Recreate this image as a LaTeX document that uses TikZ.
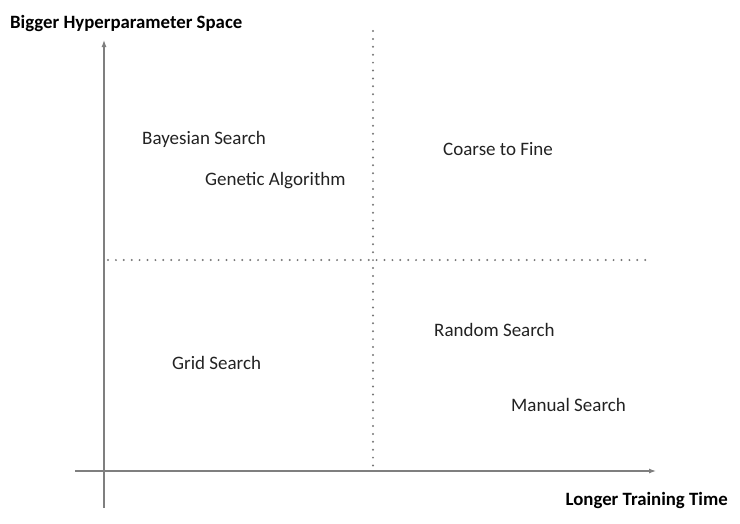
\documentclass[tikz,border=0pt]{standalone}
\usepackage{fontspec}
\setmainfont{Carlito}
\usetikzlibrary{arrows.meta}
\definecolor{axisgray}{HTML}{7F7F7F}
\definecolor{dotgray}{HTML}{777777}
\definecolor{textgray}{HTML}{222222}
\tikzset{
  lbl/.style={anchor=west,inner sep=0pt,font=\fontsize{19}{22}\selectfont,text=textgray},
  axlbl/.style={inner sep=0pt,font=\bfseries\fontsize{18.8}{22}\selectfont,text=black},
  axis/.style={draw=axisgray,line width=1.2pt,-{Latex[length=7pt,width=5pt]}},
  split/.style={draw=dotgray,line width=2.2pt,line cap=round,dash pattern=on 0pt off 7.9pt}
}
\begin{document}
\begin{tikzpicture}[x=1pt,y=-1pt]
\useasboundingbox (0,0) rectangle (740,523);
        % axes
        \coordinate (ybot) at (104,508);
        \coordinate (ytop) at (104,40);
        \coordinate (xleft) at (75,471);
        \coordinate (xright) at (656,471);
        \draw[axis] (ybot) to (ytop);
        \draw[axis] (xleft) to (xright);
        % quadrant split
        \coordinate (vtop) at (373,31);
        \coordinate (vbot) at (373,468);
        \coordinate (hleft) at (108,260);
        \coordinate (hright) at (652,260);
        \draw[split] (vtop) to (vbot);
        \draw[split] (hleft) to (hright);
        % axis labels
        \node[axlbl,anchor=west] (yl) at (10,23) {Bigger Hyperparameter Space};
        \node[axlbl,anchor=east] (xl) at (728,500) {Longer Training Time};
        % methods
        \node[lbl] (bay) at (142,139) {Bayesian Search};
        \node[lbl] (gen) at (205,181) {Genetic Algorithm};
        \node[lbl] (ctf) at (443,149) {Coarse to Fine};
        \node[lbl] (rnd) at (434,330) {Random Search};
        \node[lbl] (grd) at (172,363) {Grid Search};
        \node[lbl] (man) at (511,405) {Manual Search};
\end{tikzpicture}
\end{document}
